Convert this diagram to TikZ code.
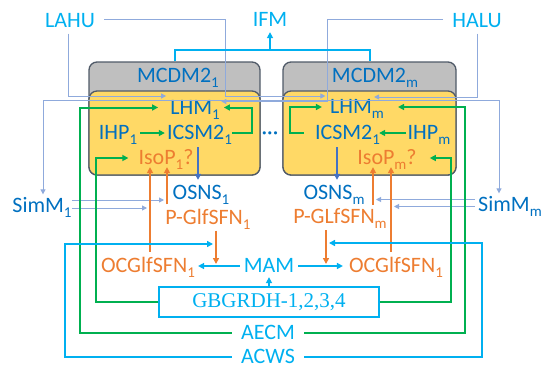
\documentclass[tikz,border=0pt]{standalone}
\usepackage{fontspec}
\setmainfont{Carlito}
\newfontfamily\gbfont{Liberation Serif}
\usetikzlibrary{arrows.meta}
\definecolor{dkblue}{HTML}{0070C0}
\definecolor{skyc}{HTML}{00B0F0}
\definecolor{orng}{HTML}{ED7D31}
\definecolor{grn}{HTML}{00B050}
\definecolor{thinc}{HTML}{8FAADC}
\definecolor{arrb}{HTML}{4472C4}
\definecolor{yel}{HTML}{FFD966}
\definecolor{gry}{HTML}{BFBFBF}
\definecolor{boxedge}{HTML}{505A68}
\newcommand\sbs[1]{\raisebox{-5pt}{\fontsize{15}{15}\selectfont #1}}
\begin{document}
\begin{tikzpicture}[x=1pt,y=-1pt,
  lbl/.style={inner sep=0pt, text height=13.9pt, text depth=0pt, font=\fontsize{22}{26}\selectfont},
  bl/.style={lbl, text=dkblue},
  ol/.style={lbl, text=orng},
  cl/.style={lbl, text=skyc},
  headA/.style={-{Triangle[length=6pt,width=6pt]}},
  headB/.style={-{Triangle[length=5pt,width=5pt]}},
  thinln/.style={draw=thinc, line width=1pt, headB},
  bluearr/.style={draw=arrb, line width=1.6pt, headA},
  orarr/.style={draw=orng, line width=2.4pt, headA},
  grarr/.style={draw=grn, line width=2pt, headA},
  cyline/.style={draw=skyc, line width=2pt},
  cyarr/.style={cyline, headA},
  graybox/.style={draw=boxedge, fill=gry, line width=1.3pt, rounded corners=8pt, inner sep=0pt},
  yelbox/.style={draw=boxedge, fill=yel, line width=1.3pt, rounded corners=8pt, inner sep=0pt},
]
\useasboundingbox (0,0) rectangle (542,370);

% the two model blocks
\node[graybox, minimum width=171pt, minimum height=113pt] (boxa) at (174.5,118.5) {};
\node[yelbox, minimum width=171pt, minimum height=84pt] (ylwa) at (174.5,133) {};
\node[graybox, minimum width=173pt, minimum height=113pt] (boxb) at (369.5,118.5) {};
\node[yelbox, minimum width=173pt, minimum height=84pt] (ylwb) at (369.5,133) {};

% labels
\node[cl] (LAHU) at (70,20.5) {LAHU};
\node[cl] (IFM) at (270,20) {IFM};
\node[cl] (HALU) at (477,20.5) {HALU};
\node[bl] (MCDMa) at (178,76) {MCDM2\sbs{1}};
\node[bl] (MCDMb) at (375,76) {MCDM2\sbs{m}};
\node[bl] (LHMa) at (195,107.5) {LHM\sbs{1}};
\node[bl] (LHMb) at (357,107) {LHM\sbs{m}};
\node[bl] (IHPa) at (118,133) {IHP\sbs{1}};
\node[bl] (ICSMa) at (199.5,133) {ICSM2\sbs{1}};
\node[bl] (dots) at (270,133) {\fontsize{22}{26}\selectfont ···};
\node[bl] (ICSMb) at (347.5,133) {ICSM2\sbs{1}};
\node[bl] (IHPb) at (429,133) {IHP\sbs{m}};
\node[ol] (IsoPa) at (166,158) {IsoP\sbs{1}?};
\node[ol] (IsoPb) at (387,158) {IsoP\sbs{m}?};
\node[bl] (OSNSa) at (201,193) {OSNS\sbs{1}};
\node[bl] (OSNSb) at (334,193) {OSNS\sbs{m}};
\node[ol] (PGa) at (208,217.5) {P-GlfSFN\sbs{1}};
\node[ol] (PGb) at (340,217) {P-GLfSFN\sbs{m}};
\node[bl] (SimMa) at (42,205.5) {SimM\sbs{1}};
\node[bl] (SimMb) at (510,204.5) {SimM\sbs{m}};
\node[ol] (OCGa) at (148,266) {OCGlfSFN\sbs{1}};
\node[cl] (MAM) at (269,266) {MAM};
\node[ol] (OCGb) at (396,266) {OCGlfSFN\sbs{1}};
\node[draw=skyc, line width=1.6pt, inner sep=0pt, minimum width=220pt, minimum height=30pt,
      text=skyc, font=\gbfont\fontsize{21}{24}\selectfont] (GB) at (269,302) {GBGRDH-1,2,3,4};
\node[cl] (AECM) at (268,333) {AECM};
\node[cl] (ACWS) at (268,357) {ACWS};

% junction points
\coordinate (bus) at (270,50);
\coordinate (simhub) at (270,100);
\coordinate (sA1) at (164,200);
\coordinate (sA2) at (147,208);
\coordinate (sB1) at (376,199.5);
\coordinate (sB2) at (394,206.5);
\coordinate (mamL) at (216,264);
\coordinate (mamR) at (326,264);
\coordinate (acwsA) at (213,244);
\coordinate (acwsB) at (329,243);

% feeds into the LHM blocks
\draw[thinln] ([xshift=-2pt,yshift=-6pt]LAHU.south) |- ([xshift=-4pt,yshift=11.5pt]LHMa.west);
\draw[thinln] ([xshift=9pt,yshift=1.5pt]LAHU.east) -| (225,96) -- ([xshift=-4.5pt,yshift=11pt]LHMb.west);
\draw[thinln] ([xshift=-9pt,yshift=1.5pt]HALU.west) -| (327,101.5) -- ([xshift=1.5pt,yshift=6pt]LHMa.east);
\draw[thinln] ([yshift=-6pt]HALU.south) |- ([xshift=-10pt,yshift=10pt]LHMb.east);
\draw[thinln] (simhub) -| ([xshift=1pt,yshift=4pt]SimMa.north);
\draw[thinln] (simhub) -| ([xshift=-11pt,yshift=4pt]SimMb.north);
\draw[thinln] ([yshift=5.5pt]SimMa.east) -- (sA1);
\draw[thinln] ([yshift=-2.5pt]SimMa.east) -- (sA2);
\draw[thinln] ([xshift=-3pt,yshift=5pt]SimMb.west) -- (sB1);
\draw[thinln] ([xshift=-3pt,yshift=-2pt]SimMb.west) -- (sB2);

% IFM bus
\draw[cyline] (boxa.north) |- (bus) -| (boxb.north);
\draw[cyarr] (bus) -- ([yshift=-5pt]IFM.south);

% inner green links
\draw[grarr] ([xshift=3pt]IHPa.east) -- ([xshift=-2pt]ICSMa.west);
\draw[grarr] (ICSMa.east) -| (252,107.5) -- ([xshift=4pt]LHMa.east);
\draw[grarr] ([xshift=-1.5pt]IHPb.west) -- ([xshift=-1pt]ICSMb.east);
\draw[grarr] ([xshift=-11pt]ICSMb.west) -| (290,107) -- ([xshift=-8pt]LHMb.west);

% ICSM to OSNS
\draw[bluearr] ([xshift=-1.5pt,yshift=-7pt]ICSMa.south) -- ([xshift=-3pt,yshift=6pt]OSNSa.north);
\draw[bluearr] ([xshift=-10.5pt,yshift=-7pt]ICSMb.south) -- ([xshift=3pt,yshift=6pt]OSNSb.north);

% orange feeds
\draw[orarr] ([xshift=2pt,yshift=7pt]OCGa.north) -- ([xshift=-16pt,yshift=-2pt]IsoPa.south);
\draw[orarr] ([xshift=-41pt,yshift=6pt]PGa.north) -- ([xshift=1pt,yshift=-2pt]IsoPa.south);
\draw[orarr] ([xshift=8pt,yshift=-6pt]PGa.south) -- (mamL);
\draw[orarr] ([xshift=-14pt,yshift=-6pt]PGb.south) -- (mamR);
\draw[orarr] ([xshift=-5pt,yshift=7pt]OCGb.north) -- ([xshift=4pt,yshift=-2pt]IsoPb.south);
\draw[orarr] ([xshift=33pt,yshift=5pt]PGb.north) -- ([xshift=-14pt,yshift=-2pt]IsoPb.south);

% MAM links
\draw[cyarr] ([xshift=-4pt]MAM.west) -- ([xshift=3pt]OCGa.east);
\draw[cyarr] ([xshift=4pt]MAM.east) -- ([xshift=-6pt]OCGb.west);
\draw[cyarr] (GB.north) -- ([yshift=-4pt]MAM.south);

% GBGRDH to IsoP
\draw[grarr] (GB.west) -| (96,158) -- ([xshift=-10pt]IsoPa.west);
\draw[grarr] (GB.east) -| (451,158) -- ([xshift=13pt]IsoPb.east);

% AECM to LHM
\draw[grarr] ([xshift=-9pt]AECM.west) -| (80,107.5) -- ([xshift=-12pt]LHMa.west);
\draw[grarr] ([xshift=9pt]AECM.east) -| (465,107) -- ([xshift=14pt]LHMb.east);

% ACWS to P-GlfSFN outputs
\draw[cyarr] ([xshift=-9pt]ACWS.west) -| (65,244) -- (acwsA);
\draw[cyarr] ([xshift=9pt]ACWS.east) -| (482,243) -- (acwsB);
\end{tikzpicture}
\end{document}
